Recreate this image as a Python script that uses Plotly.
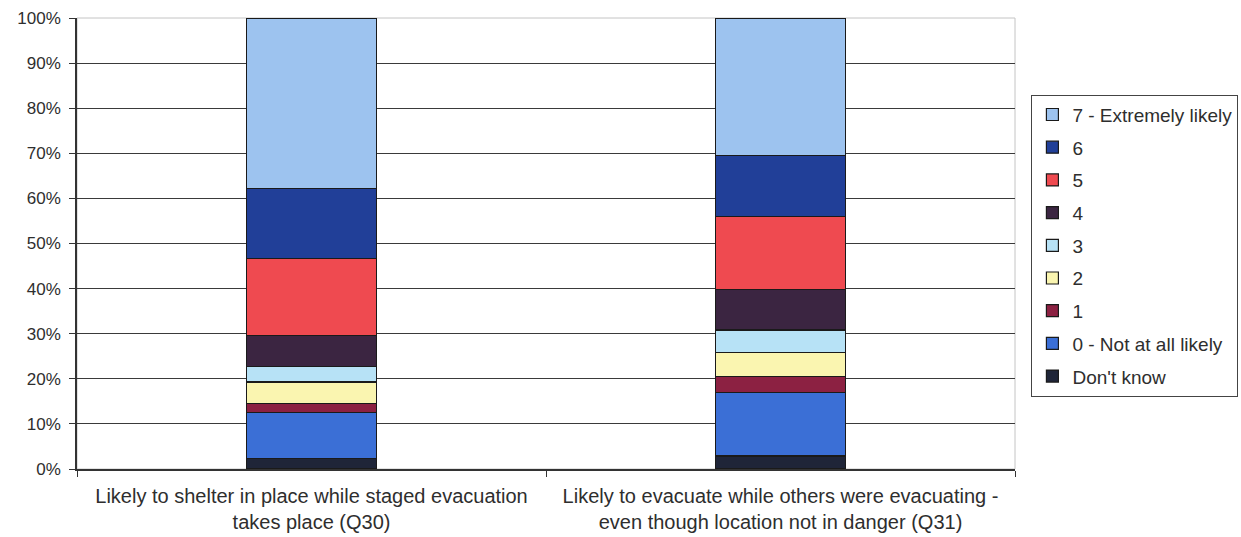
import plotly.graph_objects as go

# ---- data (percent of respondents) ----
categories = [
    "Likely to shelter in place while staged evacuation<br>takes place (Q30)",
    "Likely to evacuate while others were evacuating -<br>even though location not in danger (Q31)",
]
series_names = ["Don't know", "0 - Not at all likely", "1", "2", "3", "4", "5", "6",
                "7 - Extremely likely"]
dont_know = [2.4, 2.9]
score_0 = [10.2, 14.1]
score_1 = [2.0, 3.5]
score_2 = [4.7, 5.3]
score_3 = [3.4, 5.0]
score_4 = [6.9, 9.0]
score_5 = [17.1, 16.1]
score_6 = [15.5, 13.6]
score_7 = [37.8, 30.5]
y_ticks = [0, 10, 20, 30, 40, 50, 60, 70, 80, 90, 100]
y_tick_labels = ["0%", "10%", "20%", "30%", "40%", "50%", "60%", "70%", "80%", "90%", "100%"]
grid_ticks = [0, 10, 20, 30, 40, 50, 60, 70, 80, 90]

series_values = [dont_know, score_0, score_1, score_2, score_3, score_4, score_5, score_6, score_7]

# ---- styles ----
colors = ["#1f2538", "#3b6fd6", "#8c2142", "#faf5b0", "#b7e2f6", "#3b2541",
          "#ef4a50", "#213f98", "#9dc3ef"]

FONT = "Liberation Sans, Arial, sans-serif"
TEXT = "#2e2e2e"

fig = go.Figure()
n = len(series_names)
for i, (name, vals, col) in enumerate(zip(series_names, series_values, colors)):
    fig.add_trace(go.Bar(
        x=categories, y=vals, name=name, legendgroup=name, legendrank=n - i,
        marker=dict(color=col, line=dict(color="#1a1a1a", width=1.2)),
    ))

# invisible helper trace so the overlaid labelled y axis is drawn
fig.add_trace(go.Scatter(x=[categories[0]], y=[None], yaxis="y2", showlegend=False,
                         hoverinfo="skip", mode="markers"))

fig.update_layout(
    barmode="stack",
    bargap=0.723,
    width=1241, height=537,
    margin=dict(l=77, r=226, t=18, b=68, autoexpand=False),
    paper_bgcolor="white", plot_bgcolor="white",
    font=dict(family=FONT, color=TEXT, size=17),
    showlegend=True,
    legend=dict(
        traceorder="grouped",
        tracegroupgap=5,
        x=1.0175, xanchor="left", y=0.83, yanchor="top",
        bordercolor="#444444", borderwidth=1, bgcolor="white",
        font=dict(family=FONT, size=19, color=TEXT),
    ),
    shapes=[dict(type="rect", xref="x domain", yref="y domain", x0=0, x1=1, y0=0, y1=1,
                 line=dict(color="#c4c4c4", width=1), layer="below")],
    yaxis=dict(
        range=[0, 100], tickvals=grid_ticks, showticklabels=False, ticks="",
        showgrid=True, gridcolor="#3a3a3a", gridwidth=1.2,
        showline=False, zeroline=False, automargin=False,
    ),
    yaxis2=dict(
        overlaying="y", side="left", anchor="x",
        range=[0, 100], tickvals=y_ticks, ticktext=y_tick_labels,
        showgrid=False, zeroline=False, automargin=False,
        showline=True, linecolor="#333333", linewidth=1.5,
        ticks="outside", ticklen=6, tickcolor="#333333", tickwidth=1.2,
        ticklabelstandoff=5,
        tickfont=dict(family=FONT, size=17, color=TEXT),
    ),
)

fig.update_xaxes(
    showline=True, linecolor="#333333", linewidth=1.5, automargin=False,
    ticks="outside", tickson="boundaries", ticklen=6, tickcolor="#333333", tickwidth=1.2,
    ticklabelstandoff=8,
    tickfont=dict(family=FONT, size=20, color=TEXT),
    showgrid=False,
)

fig.write_html("out.html")
